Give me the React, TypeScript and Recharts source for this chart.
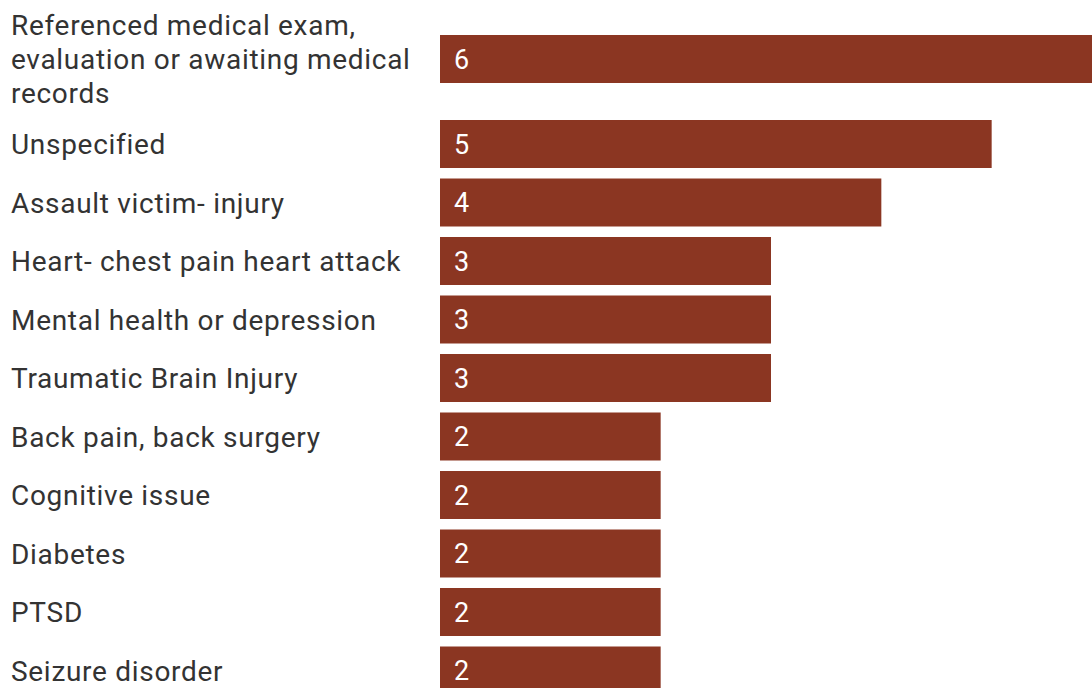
import React from 'react';
import { BarChart, Bar, XAxis, YAxis, LabelList } from 'recharts';

const topCategories = ['Referenced medical exam,\nevaluation or awaiting medical\nrecords'];
const topValues = [6];

const categories = [
  'Unspecified',
  'Assault victim- injury',
  'Heart- chest pain heart attack',
  'Mental health or depression',
  'Traumatic Brain Injury',
  'Back pain, back surgery',
  'Cognitive issue',
  'Diabetes',
  'PTSD',
  'Seizure disorder',
];
const values = [5, 4, 3, 3, 3, 2, 2, 2, 2, 2];

const xDomain: [number, number] = [0, 6];

const BAR_COLOR = '#8b3622';
const TEXT_COLOR = '#333333';
const FONT = 'Roboto, sans-serif';

const topData = topCategories.map((c, i) => ({ name: c, value: topValues[i] }));
const data = categories.map((c, i) => ({ name: c, value: values[i] }));

const LeftTick = (props: any) => {
  const { y, payload } = props;
  const lines = String(payload.value).split('\n');
  const lh = 34;
  const start = -((lines.length - 1) * lh) / 2;
  return (
    <text
      x={11}
      y={y}
      textAnchor="start"
      fill={TEXT_COLOR}
      fontFamily={FONT}
      fontSize={28}
      letterSpacing={0.7}
    >
      {lines.map((l, i) => (
        <tspan key={i} x={11} y={y + start + i * lh} dy="0.36em">
          {l}
        </tspan>
      ))}
    </text>
  );
};

const renderChart = (d: any[], height: number, marginTop: number) => (
  <BarChart
    width={1102}
    height={height}
    data={d}
    layout="vertical"
    margin={{ top: marginTop, right: 0, bottom: 0, left: 0 }}
  >
    <XAxis type="number" domain={xDomain} hide />
    <YAxis
      type="category"
      dataKey="name"
      width={440}
      axisLine={false}
      tickLine={false}
      tick={<LeftTick />}
      interval={0}
    />
    <Bar dataKey="value" fill={BAR_COLOR} barSize={48} isAnimationActive={false}>
      <LabelList
        dataKey="value"
        position="insideLeft"
        offset={14}
        fill="#ffffff"
        fontSize={27}
        fontFamily={FONT}
      />
    </Bar>
  </BarChart>
);

export default function App() {
  return (
    <div
      style={{
        position: 'fixed',
        left: 0,
        top: 0,
        width: 1092,
        height: 688,
        overflow: 'hidden',
        background: '#ffffff',
      }}
    >
      <div style={{ position: 'absolute', left: 0, top: 0 }}>{renderChart(topData, 115, 3)}</div>
      <div style={{ position: 'absolute', left: 0, top: 115 }}>{renderChart(data, 585, 0)}</div>
    </div>
  );
}
